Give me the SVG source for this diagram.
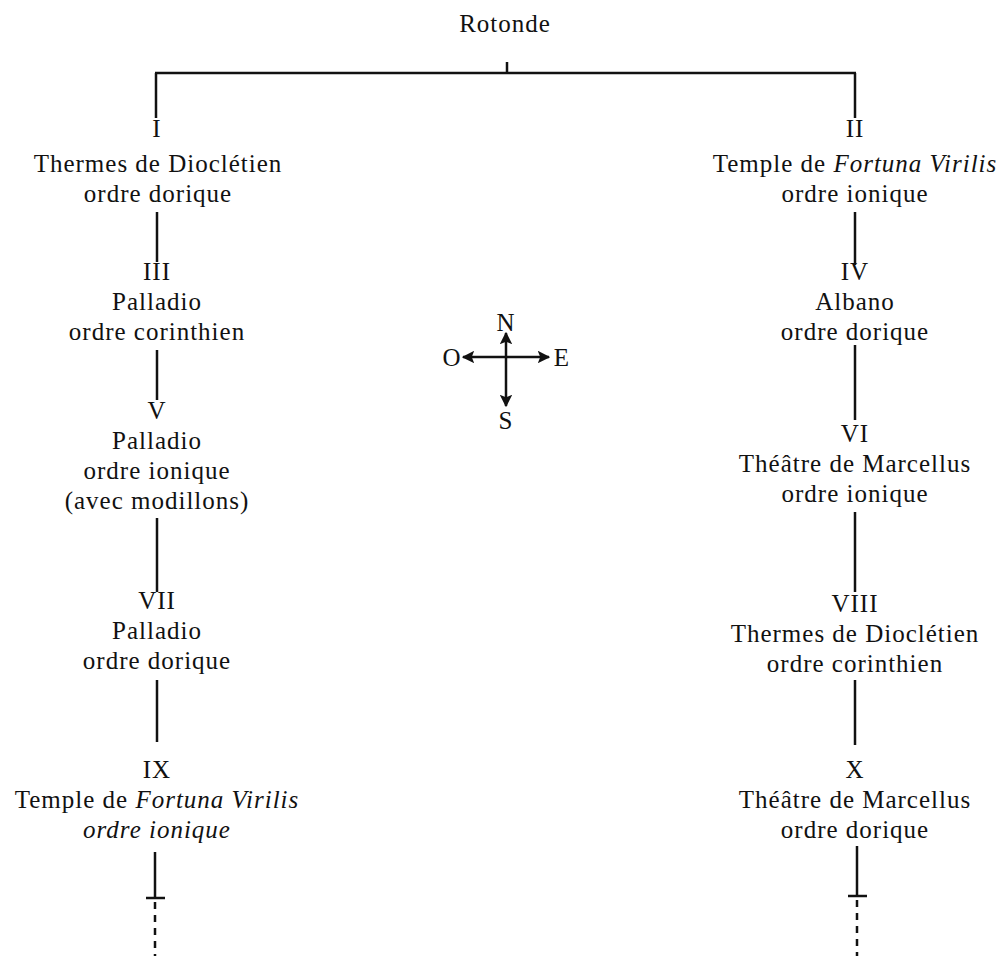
<svg xmlns="http://www.w3.org/2000/svg" width="1002" height="956" viewBox="0 0 1002 956">
<defs>
<style>
text{font-family:"Liberation Serif","Times New Roman",serif;font-size:25px;letter-spacing:1px;fill:#111;text-anchor:middle}
.it{font-style:italic}
.ln{stroke:#111;stroke-width:2.5;fill:none}
.dash{stroke:#111;stroke-width:2.5;fill:none;stroke-dasharray:7 6}
</style>
<marker id="ah" viewBox="0 0 10 10" refX="9" refY="5" markerWidth="5" markerHeight="5" orient="auto-start-reverse" markerUnits="strokeWidth">
<path d="M0,0 L10,5 L0,10 L2,5 Z" fill="#111"/>
</marker>
</defs>
<rect width="1002" height="956" fill="#fff"/>
<g id="connectors">
<line class="ln" x1="507" y1="62" x2="507" y2="73"/>
<line class="ln" x1="155" y1="73" x2="856" y2="73"/>
<line class="ln" x1="156" y1="73" x2="156" y2="118"/>
<line class="ln" x1="855" y1="73" x2="855" y2="118"/>
<line class="ln" x1="157" y1="212" x2="157" y2="262"/>
<line class="ln" x1="157" y1="350" x2="157" y2="400"/>
<line class="ln" x1="157" y1="518" x2="157" y2="592"/>
<line class="ln" x1="157" y1="680" x2="157" y2="742"/>
<line class="ln" x1="155" y1="852" x2="155" y2="898"/>
<line class="ln" x1="146" y1="898" x2="165" y2="898"/>
<line class="dash" x1="155" y1="902" x2="155" y2="956"/>
<line class="ln" x1="855" y1="212" x2="855" y2="265"/>
<line class="ln" x1="855" y1="345" x2="855" y2="420"/>
<line class="ln" x1="855" y1="512" x2="855" y2="592"/>
<line class="ln" x1="855" y1="680" x2="855" y2="745"/>
<line class="ln" x1="857" y1="846" x2="857" y2="896"/>
<line class="ln" x1="848" y1="896" x2="867" y2="896"/>
<line class="dash" x1="857" y1="900" x2="857" y2="956"/>
</g>
<g id="compass">
<line class="ln" x1="463" y1="357" x2="549" y2="357" marker-start="url(#ah)" marker-end="url(#ah)"/>
<line class="ln" x1="506" y1="333" x2="506" y2="406" marker-start="url(#ah)" marker-end="url(#ah)"/>
<text x="506" y="331">N</text>
<text x="452" y="366">O</text>
<text x="562" y="366">E</text>
<text x="506" y="429">S</text>
</g>
<g id="rotonde"><text x="505" y="32">Rotonde</text></g>
<g id="n1"><text x="157" y="137">I</text><text x="158" y="172">Thermes de Dioclétien</text><text x="158" y="202">ordre dorique</text></g>
<g id="n3"><text x="157" y="280">III</text><text x="157" y="310">Palladio</text><text x="157" y="340">ordre corinthien</text></g>
<g id="n5"><text x="157" y="419">V</text><text x="157" y="449">Palladio</text><text x="157" y="479">ordre ionique</text><text x="157" y="509">(avec modillons)</text></g>
<g id="n7"><text x="157" y="609">VII</text><text x="157" y="639">Palladio</text><text x="157" y="669">ordre dorique</text></g>
<g id="n9"><text x="157" y="778">IX</text><text x="157" y="808">Temple de <tspan class="it">Fortuna Virilis</tspan></text><text x="157" y="838" class="it">ordre ionique</text></g>
<g id="n2"><text x="855" y="137">II</text><text x="855" y="172">Temple de <tspan class="it">Fortuna Virilis</tspan></text><text x="855" y="202">ordre ionique</text></g>
<g id="n4"><text x="855" y="280">IV</text><text x="855" y="310">Albano</text><text x="855" y="340">ordre dorique</text></g>
<g id="n6"><text x="855" y="442">VI</text><text x="855" y="472">Théâtre de Marcellus</text><text x="855" y="502">ordre ionique</text></g>
<g id="n8"><text x="855" y="612">VIII</text><text x="855" y="642">Thermes de Dioclétien</text><text x="855" y="672">ordre corinthien</text></g>
<g id="n10"><text x="855" y="778">X</text><text x="855" y="808">Théâtre de Marcellus</text><text x="855" y="838">ordre dorique</text></g>
</svg>
